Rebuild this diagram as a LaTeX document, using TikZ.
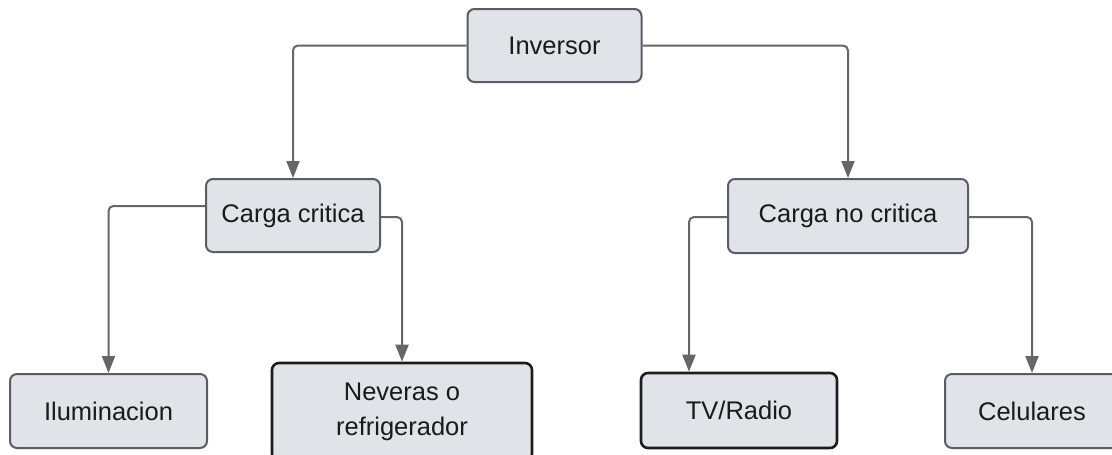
\documentclass[tikz,border=0pt]{standalone}
\usepackage{fontspec}
\setmainfont{Liberation Sans}
\usetikzlibrary{arrows.meta}
\definecolor{boxfill}{HTML}{E1E3E8}
\definecolor{boxline}{HTML}{585D64}
\definecolor{darkline}{HTML}{1C1C1C}
\definecolor{connline}{HTML}{666666}
\definecolor{txt}{HTML}{1A1A1A}
\tikzset{
  item/.style={draw=boxline, line width=2pt, fill=boxfill, rounded corners=7pt,
    text=txt, align=center, inner sep=0pt,
    font=\fontsize{25.5}{35}\selectfont},
  strong/.style={item, draw=darkline, line width=2.6pt},
  conn/.style={draw=connline, line width=2pt, rounded corners=5pt,
    -{Triangle[length=17pt, width=13pt]}},
}
\begin{document}
\begin{tikzpicture}[x=1pt, y=-1pt]
\useasboundingbox (0,0) rectangle (1112,455);

% boxes
\node[item, minimum width=174pt, minimum height=73pt] (inv) at (554.5,45.5) {Inversor};
\node[item, minimum width=174pt, minimum height=73pt] (cc) at (293,215.5) {Carga critica};
\node[item, minimum width=240pt, minimum height=74pt] (cnc) at (848,216) {Carga no critica};
\node[item, minimum width=197pt, minimum height=74pt] (ilu) at (108.5,411) {Iluminacion};
\node[strong, minimum width=260pt, minimum height=98pt] (nev) at (402,412) {Neveras o\\refrigerador};
\node[strong, minimum width=196pt, minimum height=75pt] (tv) at (739,410.5) {TV/Radio};
\node[item, minimum width=174pt, minimum height=74pt] (cel) at (1032,411) {Celulares};

% connectors
\draw[conn] (inv.west) -| (cc.north);
\draw[conn] (inv.east) -| (cnc.north);
\draw[conn] ([yshift=9.5pt]cc.west) -| (ilu.north);
\draw[conn] ([yshift=-1.5pt]cc.east) -| (nev.north);
\draw[conn] ([yshift=-1pt]cnc.west) -| ([xshift=-50pt]tv.north);
\draw[conn] ([yshift=-1pt]cnc.east) -| (cel.north);
\end{tikzpicture}
\end{document}
